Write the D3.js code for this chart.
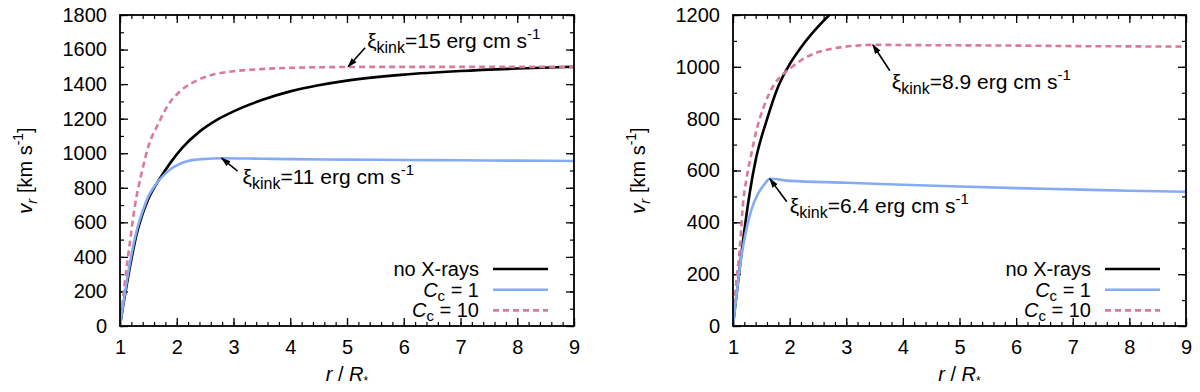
<!DOCTYPE html>
<html>
<head>
<meta charset="utf-8">
<script src="https://cdn.jsdelivr.net/npm/d3@7"></script>
<style>
  body { margin: 0; background: #fff; }
  svg { display: block; font-family: "Liberation Sans", Arial, sans-serif; }
</style>
</head>
<body>
<script>
const width = 1200;
const height = 392;

// ---- data ----
const leftNoXraysR = [1, 1.03, 1.06, 1.12, 1.2, 1.3, 1.4, 1.5, 1.7, 1.9, 2.1, 2.4, 2.7, 3, 3.5, 4, 4.5, 5, 6, 7, 8, 9];
const leftNoXraysV = [0, 65, 125, 240, 385, 540, 650, 735, 852, 950, 1032, 1125, 1192, 1242, 1308, 1358, 1393, 1420, 1455, 1476, 1490, 1500];
const leftCc1R = [1, 1.03, 1.09, 1.2, 1.3, 1.4, 1.5, 1.6, 1.7, 1.8, 1.9, 2, 2.2, 2.5, 2.8, 3.5, 4, 5, 6, 7, 8, 9];
const leftCc1V = [0, 70, 200, 410, 560, 665, 750, 805, 848, 882, 910, 930, 955, 967, 971, 968, 966, 963, 961, 959, 957, 955];
const leftCc10R = [1, 1.04, 1.09, 1.18, 1.26, 1.38, 1.5, 1.68, 1.85, 2.09, 2.38, 2.68, 2.97, 3.44, 4, 5, 6, 7, 8, 9];
const leftCc10V = [0, 120, 266, 498, 691, 884, 1039, 1174, 1280, 1367, 1425, 1458, 1473, 1486, 1494, 1499, 1500, 1500, 1500, 1500];

const rightNoXraysR = [1, 1.03, 1.07, 1.18, 1.3, 1.4, 1.6, 1.8, 2, 2.2, 2.4, 2.7, 3];
const rightNoXraysV = [0, 60, 135, 334, 520, 640, 797, 925, 1010, 1075, 1130, 1200, 1260];
const rightCc1R = [1, 1.03, 1.06, 1.12, 1.21, 1.32, 1.44, 1.56, 1.65, 2, 3, 4, 5, 6, 7, 8, 9];
const rightCc1V = [0, 60, 115, 225, 345, 445, 510, 548, 568, 560, 553, 545, 538, 532, 527, 522, 518];
const rightCc10R = [1, 1.05, 1.12, 1.18, 1.24, 1.32, 1.42, 1.55, 1.71, 1.85, 2, 2.2, 2.48, 2.8, 3.2, 3.5, 4, 5, 6, 7, 8, 9];
const rightCc10V = [0, 150, 300, 480, 570, 660, 760, 850, 926, 965, 992, 1025, 1055, 1072, 1082, 1085, 1084, 1083, 1082, 1080, 1079, 1078];

const xTicks = [1, 2, 3, 4, 5, 6, 7, 8, 9];
const leftYTicks = [0, 200, 400, 600, 800, 1000, 1200, 1400, 1600, 1800];
const rightYTicks = [0, 200, 400, 600, 800, 1000, 1200];
const legendLabels = ["no X-rays", "Cc = 1", "Cc = 10"];

// kink annotations: value, point on curve (r, v)
const leftKinks = [
  { xi: "11", r: 2.79, v: 972, tail: [16, 13], text: [21, 26] },
  { xi: "15", r: 5.02, v: 1500, tail: [17, -19], text: [19, -19] }
];
const rightKinks = [
  { xi: "6.4", r: 1.65, v: 568, tail: [17, 23], text: [20, 34] },
  { xi: "8.9", r: 3.47, v: 1085, tail: [17, 26], text: [19, 44] }
];

const black = "#000000";
const blue = "#84abf4";
const pink = "#d97a9a";

const svg = d3.select("body").append("svg")
  .attr("width", width)
  .attr("height", height);

const defs = svg.append("defs");
defs.append("marker")
  .attr("id", "head")
  .attr("markerUnits", "userSpaceOnUse")
  .attr("markerWidth", 10)
  .attr("markerHeight", 8)
  .attr("refX", 9)
  .attr("refY", 4)
  .attr("orient", "auto")
  .append("path")
  .attr("d", "M0,0.8 L10,4 L0,7.2 Z")
  .attr("fill", "#000");

function drawPanel(opt) {
  const x = d3.scaleLinear().domain([1, 9]).range([opt.left, opt.right]);
  const y = d3.scaleLinear().domain([0, opt.ymax]).range([opt.bottom, opt.top]);
  const g = svg.append("g");

  const clipId = "clip" + opt.id;
  defs.append("clipPath").attr("id", clipId)
    .append("rect")
    .attr("x", opt.left).attr("y", opt.top)
    .attr("width", opt.right - opt.left).attr("height", opt.bottom - opt.top);

  const xMinor = d3.range(1, 9.001, 0.2).map(d => Math.round(d * 10) / 10);
  const yMinor = d3.range(0, opt.ymax + 1, 100);

  // minor ticks, all four sides
  const minorAxes = [
    [d3.axisBottom(x).tickValues(xMinor), opt.bottom, "y"],
    [d3.axisTop(x).tickValues(xMinor), opt.top, "y"],
    [d3.axisLeft(y).tickValues(yMinor), opt.left, "x"],
    [d3.axisRight(y).tickValues(yMinor), opt.right, "x"]
  ];
  minorAxes.forEach(function (a) {
    const ax = g.append("g")
      .attr("transform", a[2] === "y" ? "translate(0," + a[1] + ")" : "translate(" + a[1] + ",0)")
      .call(a[0].tickSize(-4).tickSizeOuter(0).tickFormat(""));
    ax.select(".domain").remove();
    ax.selectAll("line").attr("stroke-width", 1.2);
  });

  // major ticks with labels on bottom / left
  const fmt = d3.format("d");
  const xb = g.append("g")
    .attr("transform", "translate(0," + opt.bottom + ")")
    .call(d3.axisBottom(x).tickValues(xTicks).tickFormat(fmt).tickSize(-8).tickSizeOuter(0).tickPadding(14));
  const xt = g.append("g")
    .attr("transform", "translate(0," + opt.top + ")")
    .call(d3.axisTop(x).tickValues(xTicks).tickSize(-8).tickSizeOuter(0).tickFormat(""));
  const yl = g.append("g")
    .attr("transform", "translate(" + opt.left + ",0)")
    .call(d3.axisLeft(y).tickValues(opt.yTicks).tickFormat(fmt).tickSize(-8).tickSizeOuter(0).tickPadding(13));
  const yr = g.append("g")
    .attr("transform", "translate(" + opt.right + ",0)")
    .call(d3.axisRight(y).tickValues(opt.yTicks).tickSize(-8).tickSizeOuter(0).tickFormat(""));
  [xb, xt, yl, yr].forEach(function (ax) {
    ax.select(".domain").remove();
    ax.selectAll("line").attr("stroke-width", 1.3);
    ax.selectAll("text")
      .attr("font-size", 20)
      .attr("font-family", "Liberation Sans, Arial, sans-serif")
      .attr("fill", "#000");
  });

  // curves
  const line = d3.line()
    .x(d => x(d[0]))
    .y(d => y(d[1]))
    .curve(d3.curveMonotoneX);

  const curves = [
    { r: opt.noR, v: opt.noV, color: black, dash: null },
    { r: opt.c10R, v: opt.c10V, color: pink, dash: "6,4" },
    { r: opt.c1R, v: opt.c1V, color: blue, dash: null }
  ];
  curves.forEach(function (c) {
    g.append("path")
      .datum(c.r.map((r, i) => [r, c.v[i]]))
      .attr("clip-path", "url(#" + clipId + ")")
      .attr("d", line)
      .attr("fill", "none")
      .attr("stroke", c.color)
      .attr("stroke-width", 2.6)
      .attr("stroke-dasharray", c.dash);
  });

  // frame
  g.append("rect")
    .attr("x", opt.left).attr("y", opt.top)
    .attr("width", opt.right - opt.left).attr("height", opt.bottom - opt.top)
    .attr("fill", "none")
    .attr("stroke", "#000")
    .attr("stroke-width", 1.8);

  // annotations
  opt.kinks.forEach(function (k) {
    const px = x(k.r), py = y(k.v);
    g.append("line")
      .attr("x1", px + k.tail[0]).attr("y1", py + k.tail[1])
      .attr("x2", px).attr("y2", py)
      .attr("stroke", "#000")
      .attr("stroke-width", 1.6)
      .attr("marker-end", "url(#head)");
    const t = g.append("text")
      .attr("x", px + k.text[0]).attr("y", py + k.text[1])
      .attr("font-size", 21);
    t.append("tspan").text("ξ");
    t.append("tspan").attr("font-size", 16).attr("dy", 5).text("kink");
    t.append("tspan").attr("dy", -5).text("=" + k.xi + " erg cm s");
    t.append("tspan").attr("font-size", 15).attr("dy", -9).text("-1");
  });

  // legend
  const legX = opt.right - 26;
  const legendRows = [
    { color: black, dash: null },
    { color: blue, dash: null },
    { color: pink, dash: "6,4" }
  ];
  legendRows.forEach(function (row, i) {
    const ly = 269 + i * 20.7;
    g.append("line")
      .attr("x1", legX - 55).attr("x2", legX)
      .attr("y1", ly).attr("y2", ly)
      .attr("stroke", row.color)
      .attr("stroke-width", 2.6)
      .attr("stroke-dasharray", row.dash);
    const t = g.append("text")
      .attr("x", legX - 69).attr("y", ly + 7)
      .attr("text-anchor", "end")
      .attr("font-size", 20);
    const label = legendLabels[i];
    if (i === 0) {
      t.text(label);
    } else {
      t.append("tspan").attr("font-style", "italic").text("C");
      t.append("tspan").attr("font-size", 15).attr("dy", 4).text("c");
      t.append("tspan").attr("dy", -4).text(label.slice(2));
    }
  });

  // axis titles
  const xl = g.append("text")
    .attr("x", (opt.left + opt.right) / 2)
    .attr("y", 381)
    .attr("text-anchor", "middle")
    .attr("font-size", 20);
  xl.append("tspan").attr("font-style", "italic").text("r");
  xl.append("tspan").text(" / ");
  xl.append("tspan").attr("font-style", "italic").text("R");
  xl.append("tspan").attr("font-size", 12).attr("dy", 4).text("*");

  const ylab = g.append("text")
    .attr("transform", "translate(" + (opt.left - 88) + "," + ((opt.top + opt.bottom) / 2) + ") rotate(-90)")
    .attr("text-anchor", "middle")
    .attr("font-size", 20);
  ylab.append("tspan").attr("font-style", "italic").text("v");
  ylab.append("tspan").attr("font-style", "italic").attr("font-size", 15).attr("dy", 5).text("r");
  ylab.append("tspan").attr("dy", -5).text(" [km s");
  ylab.append("tspan").attr("font-size", 14).attr("dy", -9).text("-1");
  ylab.append("tspan").attr("dy", 9).text("]");
}

drawPanel({
  id: "L", left: 120, right: 574, top: 15, bottom: 326, ymax: 1800, yTicks: leftYTicks,
  noR: leftNoXraysR, noV: leftNoXraysV, c1R: leftCc1R, c1V: leftCc1V, c10R: leftCc10R, c10V: leftCc10V,
  kinks: leftKinks
});
drawPanel({
  id: "R", left: 733, right: 1186, top: 15, bottom: 326, ymax: 1200, yTicks: rightYTicks,
  noR: rightNoXraysR, noV: rightNoXraysV, c1R: rightCc1R, c1V: rightCc1V, c10R: rightCc10R, c10V: rightCc10V,
  kinks: rightKinks
});
</script>
</body>
</html>
